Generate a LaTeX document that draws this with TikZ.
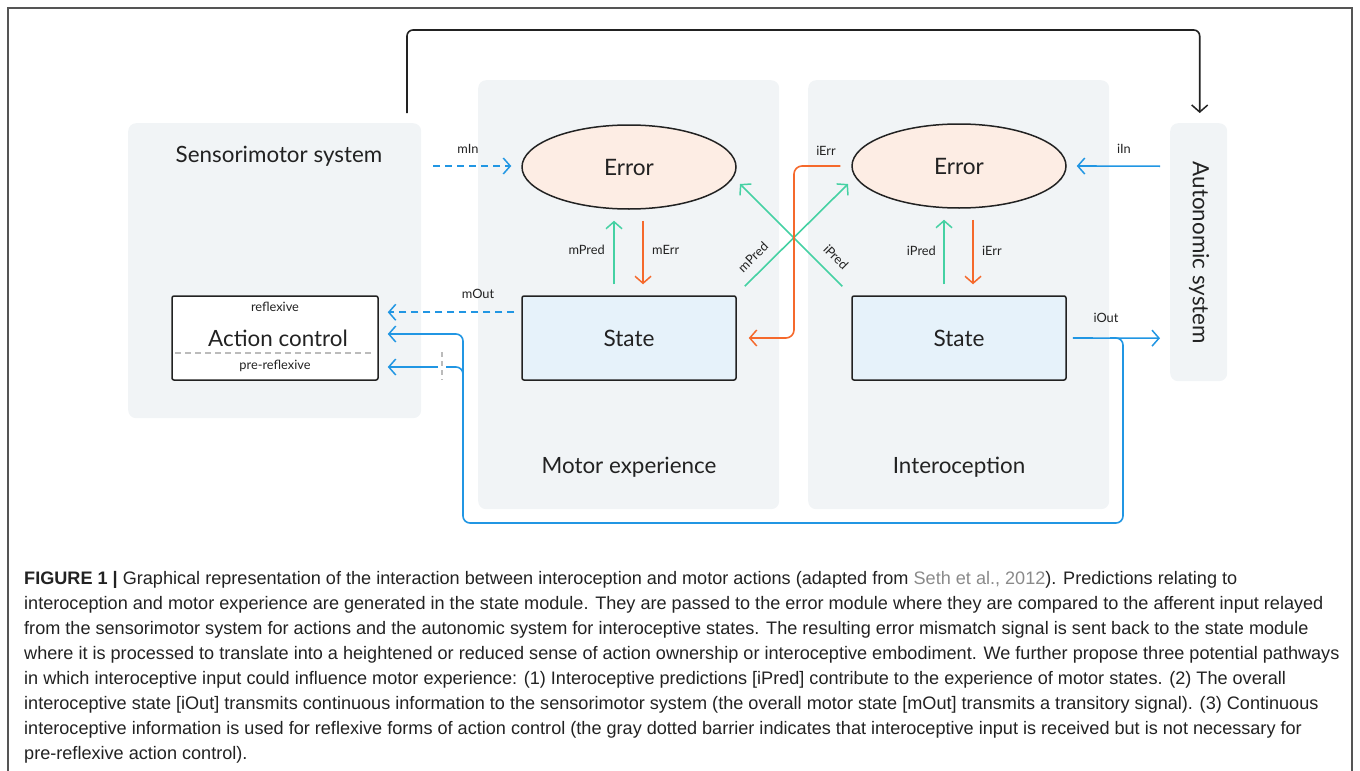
\documentclass[tikz,border=0pt]{standalone}
\usepackage{fontspec}
\setmainfont{Liberation Sans}
\newfontfamily\diagfont{Lato}
\usetikzlibrary{arrows.meta,shapes.geometric,calc}

\definecolor{panelgray}{HTML}{F1F4F6}
\definecolor{errfill}{HTML}{FDEDE4}
\definecolor{statefill}{HTML}{E6F2FA}
\definecolor{mint}{HTML}{45D1A3}
\definecolor{flame}{HTML}{F5692C}
\definecolor{sky}{HTML}{2196E3}
\definecolor{ink}{HTML}{222222}
\definecolor{framegray}{HTML}{555555}
\definecolor{barriergray}{HTML}{BBBBBB}
\definecolor{citegray}{HTML}{8A8A8A}

\tikzset{
  panel/.style={fill=panelgray, draw=none, rounded corners=8, anchor=north west, inner sep=0},
  title/.style={font=\diagfont\fontsize{22.4}{26}\selectfont, text=ink},
  errbox/.style={ellipse, draw=ink, line width=1.5, fill=errfill, inner sep=0,
    minimum width=214, minimum height=84, font=\diagfont\fontsize{22.6}{26}\selectfont, text=ink},
  statebox/.style={draw=ink, line width=1.5, fill=statefill, rounded corners=2, inner sep=0,
    minimum width=214, minimum height=84, font=\diagfont\fontsize{22.6}{26}\selectfont, text=ink},
  actbox/.style={draw=ink, line width=1.5, fill=white, rounded corners=2, inner sep=0,
    minimum width=206, minimum height=84},
  lbl/.style={font=\diagfont\fontsize{12.8}{14}\selectfont, text=ink, inner sep=1},
  tip/.style={-{Straight Barb[length=7,width=16,line width=1.5]}},
  flow/.style={line width=1.6, tip},
  dashflow/.style={flow, dash pattern=on 7 off 5},
  capline/.style={anchor=base west, inner sep=0, font=\fontsize{18.1}{20}\selectfont, text=ink},
}

\begin{document}
\begin{tikzpicture}[x=1pt,y=-1pt]
\useasboundingbox (0,0) rectangle (1360,771);

% outer frame (open at the bottom)
\draw[framegray, line width=2] (8,771) -- (8,8) -- (1352,8) -- (1352,771);

% background panels
\node[panel, minimum width=293, minimum height=295] (sens) at (128,123) {};
\node[panel, minimum width=301, minimum height=429] (motor) at (478,80) {};
\node[panel, minimum width=301, minimum height=429] (intero) at (808,80) {};
\node[panel, minimum width=57, minimum height=258] (auto) at (1170,123) {};

\node[title] (sensT) at (279,156) {Sensorimotor system};
\node[title] (motorT) at (629,467) {Motor experience};
\node[title] (interoT) at (959,467) {Interoception};
\node[title, rotate=-90] (autoT) at (1199,253) {Autonomic system};

% modules
\node[errbox] (errM) at (629,167) {Error};
\node[errbox] (errI) at (959,166) {Error};
\node[statebox] (stM) at (629,338) {State};
\node[statebox] (stI) at (959,338) {State};

% action control box
\node[actbox] (act) at (275,338) {};
\node[lbl] (reflex) at (275,307) {reflexive};
\node[font=\diagfont\fontsize{22.4}{24}\selectfont, text=ink, inner sep=0] (actT) at (278,338) {Action control};
\node[lbl] (prereflex) at (275,366) {pre-reflexive};
\draw[barriergray, line width=1.3, dash pattern=on 6 off 4] ($(act.west)+(4,15)$) -- ($(act.east)+(-6,15)$);

% top link: sensorimotor -> autonomic
\coordinate (topL) at ($(sens.north west)+(279,-10)$);
\coordinate (topR) at ($(auto.north)+(1,-10)$);
\draw[ink, line width=1.6, tip, rounded corners=6] (topL) -- (topL |- 0,30) -- (topR |- 0,30) -- (topR);

% motor in / out
\coordinate (mInS) at (433,166);
\draw[sky, dashflow] (mInS) -- ($(errM.west)+(-10,-1)$);
\node[lbl] (mInL) at (468,149) {mIn};
\draw[sky, dashflow] ($(stM.north west)+(-7,17)$) -- ($(act.north east)+(9,17)$);
\node[lbl] (mOutL) at (478,294) {mOut};

% motor loop
\draw[mint, flow] ($(stM.north)+(-15,-11)$) -- ($(errM.south)+(-15,11)$);
\draw[flame, flow] ($(errM.south)+(14,11)$) -- ($(stM.north)+(14,-11)$);
\node[lbl, anchor=east] (mPredL) at (606,250) {mPred};
\node[lbl, anchor=west] (mErrL) at (651,250) {mErr};

% interoceptive loop
\draw[mint, flow] ($(stI.north)+(-15,-11)$) -- ($(errI.south)+(-15,11)$);
\draw[flame, flow] ($(errI.south)+(14,11)$) -- ($(stI.north)+(14,-11)$);
\node[lbl, anchor=east] (iPredL) at (937,251) {iPred};
\node[lbl, anchor=west] (iErrL) at (981,251) {iErr};

% crossing predictions
\draw[mint, flow] ($(stM.north east)+(8,-9)$) -- (848,184);
\draw[mint, flow] ($(stI.north west)+(-9,-9)$) -- (740,184);
\node[lbl, rotate=45] (mPredX) at (753,257) {mPred};
\node[lbl, rotate=-45] (iPredX) at (836,257) {iPred};

% interoceptive error sent to motor state
\draw[flame, flow, rounded corners=8] ($(errI.west)+(-11,0)$) -- (794,166) -- (794,338) -- ($(stM.east)+(12,0)$);
\node[lbl] (iErrX) at (826,151) {iErr};

% autonomic in / out
\draw[sky, flow] ($(auto.west)+(-10,-86)$) -- ($(errI.east)+(10,0)$);
\node[lbl] (iInL) at (1124,149) {iIn};
\draw[sky, flow] ($(stI.east)+(6,0)$) -- ($(auto.west)+(-10,86)$);
\node[lbl] (iOutL) at (1106,318) {iOut};

% continuous interoceptive output to action control
\draw[sky, flow, rounded corners=7] (1110,338) -- (1123,338) -- (1123,523) -- (463,523) -- (463,334) -- ($(act.east)+(9,-4)$);
\draw[sky, line width=1.6, rounded corners=7] (463,385) -- (463,367) -- (446,367);
\draw[sky, flow] (438,367) -- ($(act.east)+(9,29)$);
\draw[barriergray, line width=1.5, dash pattern=on 5 off 4] (442,352) -- (442,380);

% caption
\node[capline] (cap1) at (24,584) {\textbf{FIGURE 1 |} Graphical representation of the interaction between interoception and motor actions (adapted from \textcolor{citegray}{Seth et al., 2012}). Predictions relating to};
\node[capline] (cap2) at (24,609) {interoception and motor experience are generated in the state module. They are passed to the error module where they are compared to the afferent input relayed};
\node[capline] (cap3) at (24,634) {from the sensorimotor system for actions and the autonomic system for interoceptive states. The resulting error mismatch signal is sent back to the state module};
\node[capline] (cap4) at (24,659) {where it is processed to translate into a heightened or reduced sense of action ownership or interoceptive embodiment. We further propose three potential pathways};
\node[capline] (cap5) at (24,684) {in which interoceptive input could influence motor experience: (1) Interoceptive predictions [iPred] contribute to the experience of motor states. (2) The overall};
\node[capline] (cap6) at (24,709) {interoceptive state [iOut] transmits continuous information to the sensorimotor system (the overall motor state [mOut] transmits a transitory signal). (3) Continuous};
\node[capline] (cap7) at (24,734) {interoceptive information is used for reflexive forms of action control (the gray dotted barrier indicates that interoceptive input is received but is not necessary for};
\node[capline] (cap8) at (24,759) {pre-reflexive action control).};
\end{tikzpicture}
\end{document}
